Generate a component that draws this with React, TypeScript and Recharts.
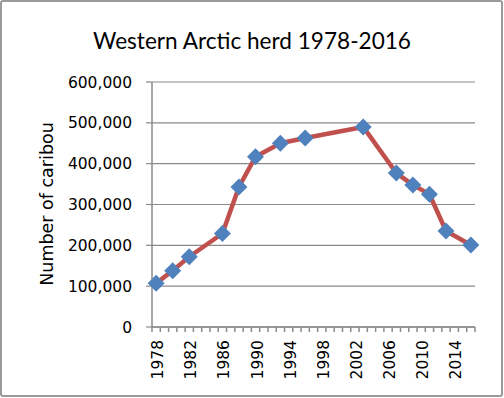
import React from 'react';
import { LineChart, Line, XAxis, YAxis, CartesianGrid } from 'recharts';

// herd counts; years without a census stay null
const years: number[] = [
  1978, 1979, 1980, 1981, 1982, 1983, 1984, 1985, 1986, 1987, 1988, 1989, 1990,
  1991, 1992, 1993, 1994, 1995, 1996, 1997, 1998, 1999, 2000, 2001, 2002, 2003,
  2004, 2005, 2006, 2007, 2008, 2009, 2010, 2011, 2012, 2013, 2014, 2015, 2016,
];
const surveyYears = [1978, 1980, 1982, 1986, 1988, 1990, 1993, 1996, 2003, 2007, 2009, 2011, 2013, 2016];
const caribou = [107000, 138000, 172000, 229000, 343000, 417000, 450000, 463000, 490000, 377000, 348000, 325000, 235000, 201000];
const yTicks = [0, 100000, 200000, 300000, 400000, 500000, 600000];
const labelEvery = 4;

const data = years.map((year) => {
  const i = surveyYears.indexOf(year);
  return { year, count: i >= 0 ? caribou[i] : null };
});

const W = 504;
const H = 398;
const margin = { top: 82, right: 29, bottom: 0, left: 0 };
const xAxisHeight = 71;
const yAxisWidth = 152;
const plotWidth = W - yAxisWidth - margin.right;
const step = plotWidth / years.length;

const gray = '#8a8a8a';
const tickFont = { fontFamily: '"DejaVu Sans", Verdana, sans-serif', fontSize: 15.5, fill: '#000' };

const Diamond = (props: any) => {
  const { cx, cy, value } = props;
  if (value == null || cx == null || cy == null) return <g />;
  const r = 8.5;
  return (
    <polygon
      points={`${cx},${cy - r} ${cx + r},${cy} ${cx},${cy + r} ${cx - r},${cy}`}
      fill="#4F81BD"
    />
  );
};

const YearTick = (props: any) => {
  const { x, y, payload, index } = props;
  const left = x - step / 2;
  const showLabel = index % labelEvery === 0;
  return (
    <g>
      <line x1={left} y1={y} x2={left} y2={y + 5} stroke={gray} strokeWidth={1.5} />
      {index === years.length - 1 && (
        <line x1={x + step / 2} y1={y} x2={x + step / 2} y2={y + 5} stroke={gray} strokeWidth={1.5} />
      )}
      {showLabel && (
        <text
          x={x + 2}
          y={y + 13}
          transform={`rotate(-90, ${x + 2}, ${y + 13})`}
          textAnchor="end"
          dominantBaseline="central"
          {...tickFont}
        >
          {payload.value}
        </text>
      )}
    </g>
  );
};

const App: React.FC = () => {
  return (
    <div style={{ position: 'absolute', left: 0, top: 0, width: W, height: H, background: '#fff' }}>
      <div
        style={{
          position: 'absolute',
          left: 0,
          top: 27,
          width: W,
          textAlign: 'center',
          fontFamily: 'Lato, "Open Sans", sans-serif',
          fontSize: 22.6,
          color: '#000',
          lineHeight: '28px',
        }}
      >
        Western Arctic herd 1978-2016
      </div>
      <LineChart width={W} height={H} data={data} margin={margin}>
        <CartesianGrid vertical={false} stroke={gray} strokeWidth={1.2} />
        <XAxis
          dataKey="year"
          type="category"
          interval={0}
          padding={{ left: step / 2, right: step / 2 }}
          axisLine={{ stroke: gray, strokeWidth: 1.5 }}
          tickLine={false}
          tickSize={0}
          tickMargin={0}
          tick={<YearTick />}
          height={xAxisHeight}
        />
        <YAxis
          width={yAxisWidth}
          domain={[0, 600000]}
          ticks={yTicks}
          interval={0}
          tickFormatter={(v: number) => v.toLocaleString('en-US')}
          axisLine={{ stroke: gray, strokeWidth: 1.5 }}
          tickLine={{ stroke: gray, strokeWidth: 1.2 }}
          tickSize={6}
          tickMargin={14}
          tick={tickFont}
          label={{
            content: () => (
              <text
                x={47}
                y={204}
                transform="rotate(-90, 47, 204)"
                textAnchor="middle"
                dominantBaseline="central"
                {...tickFont}
                fontSize={17.5}
              >
                Number of caribou
              </text>
            ),
          }}
        />
        <Line
          dataKey="count"
          stroke="none"
          dot={<Diamond />}
          activeDot={false}
          isAnimationActive={false}
        />
        <Line
          dataKey="count"
          stroke="#C0504D"
          strokeWidth={4.5}
          strokeLinejoin="round"
          connectNulls
          dot={false}
          activeDot={false}
          isAnimationActive={false}
        />
      </LineChart>
      <div
        style={{
          position: 'absolute',
          left: 0,
          top: 0,
          width: W - 1,
          height: H - 1,
          boxSizing: 'border-box',
          border: '2px solid #9a9a9a',
          borderRadius: 3,
          pointerEvents: 'none',
        }}
      />
    </div>
  );
};

export default App;
